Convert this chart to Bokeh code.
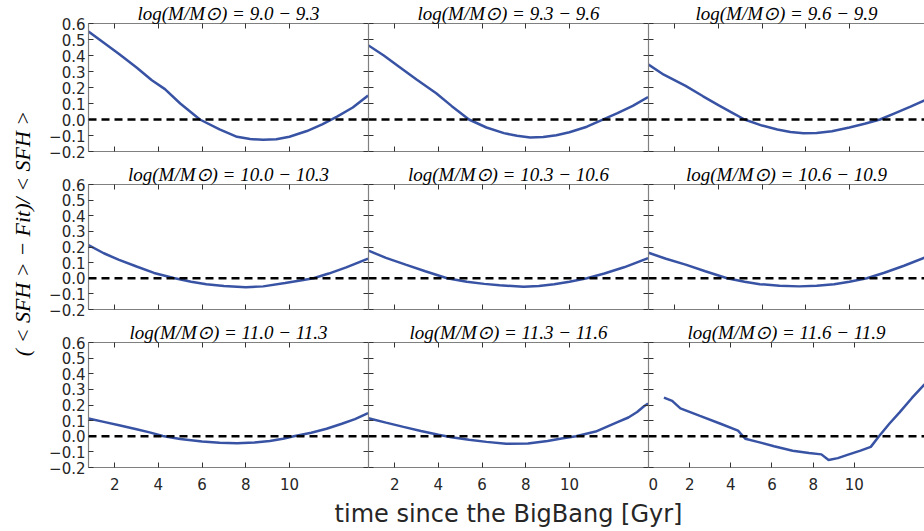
import math
from bokeh.plotting import figure
from bokeh.models import Range1d, LinearAxis, FixedTicker, Span, CustomJSTickFormatter, Label
from bokeh.layouts import column, row
from bokeh.embed import file_html
from bokeh.resources import INLINE

# ---- data -------------------------------------------------------------
mass_bins = ["9.0 − 9.3", "9.3 − 9.6", "9.6 − 9.9",
             "10.0 − 10.3", "10.3 − 10.6", "10.6 − 10.9",
             "11.0 − 11.3", "11.3 − 11.6", "11.6 − 11.9"]

x_ticks = [0, 2, 4, 6, 8, 10]
y_ticks = [-0.2, -0.1, 0.0, 0.1, 0.2, 0.3, 0.4, 0.5, 0.6]

x_label = "time since the BigBang [Gyr]"
y_label = "( < SFH > − Fit)/ < SFH >"

t_1 = [0.8, 1.5, 2.2, 3.0, 3.7, 4.3, 5.0, 5.9, 6.8, 7.6, 8.2, 8.8, 9.4, 10.0, 10.8, 11.5, 12.2, 12.9, 13.6]
r_1 = [0.55, 0.48, 0.41, 0.325, 0.245, 0.19, 0.10, 0.0, -0.062, -0.108, -0.122, -0.127, -0.124, -0.108, -0.072, -0.03, 0.02, 0.075, 0.15]

t_2 = [0.8, 1.5, 2.2, 3.0, 3.9, 4.6, 5.4, 6.2, 7.0, 7.6, 8.2, 8.8, 9.4, 10.0, 10.8, 11.5, 12.2, 12.9, 13.6]
r_2 = [0.463, 0.40, 0.33, 0.25, 0.164, 0.085, 0.0, -0.05, -0.085, -0.102, -0.112, -0.11, -0.098, -0.08, -0.045, -0.002, 0.04, 0.085, 0.14]

t_3 = [0.8, 1.5, 2.5, 3.3, 4.0, 4.6, 5.2, 6.0, 6.7, 7.3, 7.9, 8.5, 9.2, 10.0, 10.7, 11.4, 12.1, 12.8, 13.6]
r_3 = [0.343, 0.28, 0.21, 0.145, 0.09, 0.045, 0.0, -0.038, -0.062, -0.078, -0.086, -0.084, -0.073, -0.05, -0.027, 0.0, 0.04, 0.08, 0.13]

t_4 = [0.8, 1.5, 2.2, 3.0, 3.8, 4.7, 5.5, 6.2, 7.0, 8.0, 8.8, 9.8, 10.5, 11.1, 11.8, 12.6, 13.6]
r_4 = [0.212, 0.16, 0.118, 0.075, 0.034, 0.002, -0.022, -0.038, -0.05, -0.058, -0.052, -0.03, -0.014, 0.0, 0.03, 0.07, 0.126]

t_5 = [0.8, 1.6, 2.5, 3.4, 4.4, 5.3, 6.1, 6.8, 7.9, 8.6, 9.3, 10.0, 10.8, 11.6, 12.5, 13.6]
r_5 = [0.177, 0.13, 0.087, 0.045, 0.0, -0.022, -0.036, -0.045, -0.055, -0.05, -0.038, -0.022, 0.0, 0.03, 0.07, 0.128]

t_6 = [0.8, 1.6, 2.5, 3.4, 4.4, 5.2, 5.9, 6.8, 7.7, 8.5, 9.3, 10.0, 10.8, 11.6, 12.5, 13.6]
r_6 = [0.163, 0.125, 0.087, 0.045, 0.0, -0.022, -0.038, -0.048, -0.052, -0.048, -0.038, -0.022, 0.0, 0.035, 0.08, 0.14]

t_7 = [0.8, 1.5, 2.2, 3.0, 3.6, 4.2, 5.0, 6.0, 6.8, 7.6, 8.4, 9.1, 9.7, 10.2, 11.0, 11.7, 12.4, 13.0, 13.6]
r_7 = [0.114, 0.092, 0.07, 0.045, 0.025, 0.002, -0.018, -0.034, -0.041, -0.045, -0.04, -0.03, -0.016, 0.0, 0.022, 0.048, 0.08, 0.11, 0.148]

t_8 = [0.8, 1.6, 2.4, 3.2, 4.0, 4.6, 5.4, 6.2, 7.1, 8.1, 9.0, 9.7, 10.3, 11.2, 12.2, 12.7, 13.1, 13.4, 13.6]
r_8 = [0.115, 0.087, 0.06, 0.034, 0.009, -0.006, -0.022, -0.036, -0.048, -0.047, -0.03, -0.013, 0.0, 0.03, 0.09, 0.12, 0.155, 0.19, 0.21]

t_9 = [0.75, 1.15, 1.55, 2.5, 3.5, 4.35, 4.7, 5.3, 6.1, 7.0, 7.8, 8.4, 8.75, 9.2, 9.7, 10.3, 10.8, 11.2, 11.7, 12.2, 12.8, 13.4, 13.6]
r_9 = [0.247, 0.226, 0.178, 0.13, 0.08, 0.036, -0.016, -0.036, -0.064, -0.093, -0.107, -0.116, -0.152, -0.14, -0.118, -0.092, -0.068, 0.0, 0.08, 0.153, 0.245, 0.33, 0.36]

times = [t_1, t_2, t_3, t_4, t_5, t_6, t_7, t_8, t_9]
resid = [r_1, r_2, r_3, r_4, r_5, r_6, r_7, r_8, r_9]

# x limits of each panel (the last column is cut by the window edge)
x_lims = [(0.8, 13.62), (0.8, 13.62), (0.8, 13.44),
          (0.8, 13.62), (0.8, 13.62), (0.8, 13.44),
          (0.8, 13.62), (0.8, 13.62), (0.0, 13.41)]

# ---- layout / style ------------------------------------------------------
YLAB_W = 40
XLAB_H = 30
COL_W = [328, 280, 276]
BORDER_L = [48, 0, 0]
ROW_H = [161, 158, 182]
BORDER_T = [21, 18, 19]
BORDER_B = [10, 10, 34]

LINE_COLOR = "#3853a4"
SPINE = "#808080"
TICK = "#333333"
TXT = "#262626"

yfmt = CustomJSTickFormatter(code="return tick.toFixed(1).replace('-', '\u2212');")
xfmt = CustomJSTickFormatter(code="return tick.toFixed(0);")


def styled_axis(ticks, fmt, show_labels):
    ax = LinearAxis(ticker=FixedTicker(ticks=ticks), formatter=fmt)
    ax.axis_line_color = SPINE
    ax.axis_line_width = 1.2
    ax.major_tick_in = 5
    ax.major_tick_out = 0
    ax.major_tick_line_color = TICK
    ax.major_tick_line_width = 1
    ax.minor_tick_line_color = None
    if show_labels:
        ax.major_label_text_font = "DejaVu Sans"
        ax.major_label_text_font_size = "15px"
        ax.major_label_text_color = TXT
    else:
        ax.major_label_text_font_size = "1px"
        ax.major_label_text_color = None
        ax.major_label_standoff = 0
    return ax


def strip(w, h):
    s = figure(width=w, height=h, x_range=Range1d(0, 1), y_range=Range1d(0, 1),
               x_axis_location=None, y_axis_location=None,
               output_backend="svg", toolbar_location=None,
               min_border_left=0, min_border_right=0, min_border_top=0, min_border_bottom=0,
               background_fill_color="white", border_fill_color="white")
    s.outline_line_color = None
    s.xgrid.visible = False
    s.ygrid.visible = False
    return s


rows = []
for r in range(3):
    figs = []
    for c in range(3):
        i = r * 3 + c
        p = figure(width=COL_W[c], height=ROW_H[r],
                   x_range=Range1d(*x_lims[i]), y_range=Range1d(-0.2, 0.6),
                   x_axis_location=None, y_axis_location=None,
                   output_backend="svg", toolbar_location=None,
                   min_border_left=BORDER_L[c], min_border_right=0,
                   min_border_top=BORDER_T[r], min_border_bottom=BORDER_B[r],
                   background_fill_color="white", border_fill_color="white")
        p.outline_line_color = None
        p.xgrid.visible = False
        p.ygrid.visible = False

        bottom = styled_axis(x_ticks, xfmt, r == 2)
        if r == 2:
            bottom.major_label_standoff = 10
        p.add_layout(bottom, "below")
        p.add_layout(styled_axis(x_ticks, xfmt, False), "above")

        left = styled_axis(y_ticks, yfmt, c == 0)
        if c == 0:
            left.major_label_standoff = 3
        p.add_layout(left, "left")
        if c < 2:
            p.add_layout(styled_axis(y_ticks, yfmt, False), "right")

        p.add_layout(Span(location=0, dimension="width", line_color="black",
                          line_width=2.5, line_dash="8 5"))
        p.line(times[i], resid[i], line_color=LINE_COLOR, line_width=2.5)

        p.title.text = "log(M/M\u2299) = " + mass_bins[i]
        p.title.align = "center"
        p.title.text_font = "Liberation Serif"
        p.title.text_font_style = "italic"
        p.title.text_font_size = "19px"
        p.title.text_color = "black"
        p.title.standoff = 0
        p.title.offset = 0
        figs.append(p)
    rows.append(row(*figs, spacing=0))

# strip with the shared x-axis title
xs = strip(sum(COL_W), XLAB_H)
xs.add_layout(Label(x=(508 - YLAB_W) / sum(COL_W), y=0.6, text=x_label,
                    text_font="DejaVu Sans", text_font_size="24px", text_color=TXT,
                    text_align="center", text_baseline="middle"))

# strip with the shared y-axis title
ys = strip(YLAB_W, sum(ROW_H) + XLAB_H)
ys.add_layout(Label(x=0.55, y=1 - 233 / 531, text=y_label, angle=math.pi / 2,
                    text_font="Liberation Serif", text_font_style="italic",
                    text_font_size="22px", text_color="black",
                    text_align="center", text_baseline="middle"))

grid = column(*rows, xs, spacing=0)
layout = row(ys, grid, spacing=0)
open("out.html", "w").write(file_html(layout, INLINE))
